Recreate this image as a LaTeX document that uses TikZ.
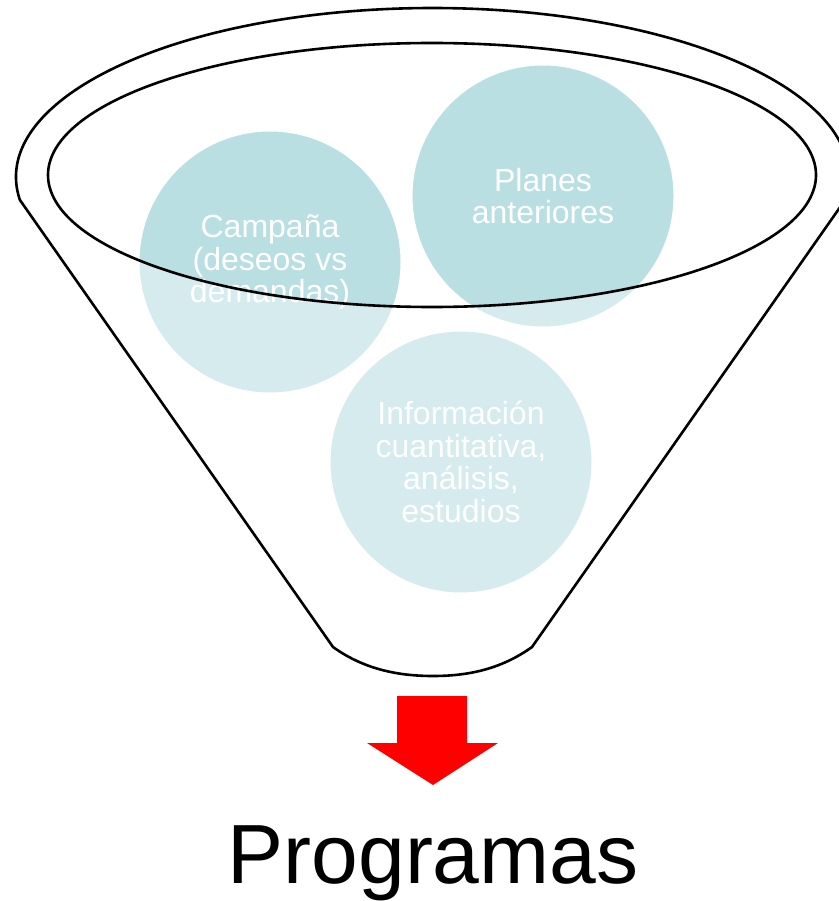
\documentclass[tikz,border=0pt]{standalone}
\usepackage{fontspec}
\setmainfont{Liberation Sans}
\begin{document}
\begin{tikzpicture}[x=1pt,y=-1pt,
  bubble/.style={circle, minimum size=262pt, inner sep=0pt, fill=bubblefill,
    draw=white, line width=1pt, text=white, align=center,
    font=\fontsize{32}{32.5}\selectfont},
  rimline/.style={draw=black, line width=2.6pt},
  glass/.style={fill=white, fill opacity=0.4, even odd rule},
  bigarrow/.style={fill=arrowred, draw=none}]
\definecolor{bubblefill}{RGB}{185,223,226}
\definecolor{arrowred}{RGB}{255,0,0}
\useasboundingbox (0,0) rectangle (838,901);

% the three inputs
\node[bubble] (campana) at (270,262) {Campaña\\(deseos vs\\demandas)};
\node[bubble] (planes) at (543,196) {Planes\\anteriores};
\node[bubble] (info) at (461,462) {Información\\cuantitativa,\\análisis,\\estudios};

% funnel body: translucent white everywhere except the opening
\coordinate (mouth) at (432,175);
\coordinate (lip) at (432.5,177);
\coordinate (spoutL) at (333,647);
\coordinate (spoutR) at (532,647);
\path[glass]
  (lip) ++(172.2:416.5 and 169)
  arc[start angle=172.2, end angle=367.8, x radius=416.5, y radius=169]
  -- (spoutR)
  .. controls (500,670) and (466,676) .. (433,676)
  .. controls (400,676) and (365,670) .. (spoutL) -- cycle
  (mouth) ellipse[x radius=384, y radius=132];

% funnel outline
\draw[rimline, line join=round]
  (lip) ++(172.2:416.5 and 169)
  arc[start angle=172.2, end angle=367.8, x radius=416.5, y radius=169]
  -- (spoutR)
  .. controls (500,670) and (466,676) .. (433,676)
  .. controls (400,676) and (365,670) .. (spoutL) -- cycle;
\draw[rimline] (mouth) ellipse[x radius=384, y radius=132];

% output arrow
\coordinate (tip) at (433,785);
\path[bigarrow] (397,696) -- (467,696) -- (467,743) -- (498,743) -- (tip)
  -- (367,743) -- (397,743) -- cycle;

% result
\node[font=\fontsize{84}{90}\selectfont, anchor=base, inner sep=0pt]
  (programas) at (433,883) {Programas};
\end{tikzpicture}
\end{document}
